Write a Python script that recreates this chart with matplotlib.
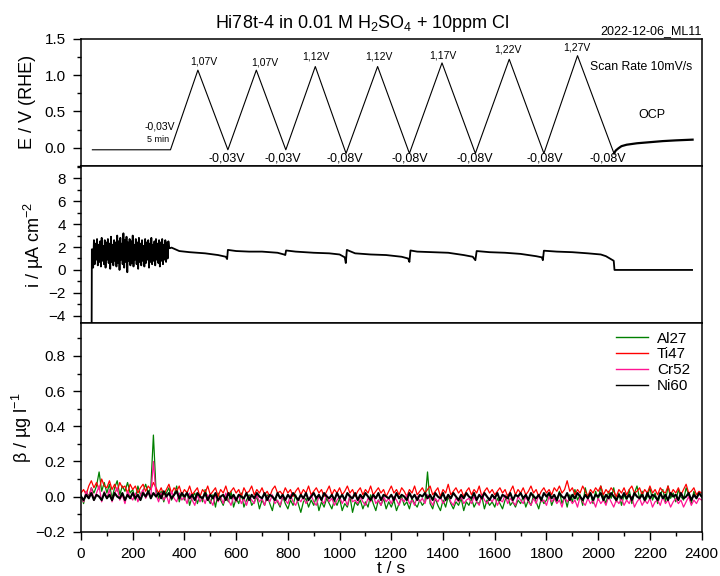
import numpy as np
import matplotlib.pyplot as plt
from matplotlib.ticker import MultipleLocator

plt.rcParams['font.family'] = ['Liberation Sans', 'DejaVu Sans']
plt.rcParams['mathtext.fontset'] = 'custom'
plt.rcParams['mathtext.rm'] = 'Liberation Sans'
plt.rcParams['mathtext.it'] = 'Liberation Sans:italic'
plt.rcParams['mathtext.default'] = 'regular'

# --- potential programme (E vs RHE) ---
t_pot = [44, 346, 452, 568, 678, 792, 906, 1025, 1147, 1270, 1396, 1525, 1656, 1790, 1920, 2061]
e_pot = [-0.03, -0.03, 1.07, -0.03, 1.07, -0.03, 1.12, -0.08, 1.12, -0.08, 1.17, -0.08, 1.22, -0.08, 1.27, -0.08]
t_ocp = [2061, 2068, 2078, 2090, 2110, 2150, 2200, 2250, 2300, 2365]
e_ocp = [-0.08, -0.04, -0.01, 0.02, 0.04, 0.06, 0.075, 0.09, 0.10, 0.11]

peak_labels = ['1,07V', '1,07V', '1,12V', '1,12V', '1,17V', '1,22V', '1,27V']
min_labels = ['-0,03V', '-0,03V', '-0,08V', '-0,08V', '-0,08V', '-0,08V', '-0,08V']

# --- current density ---
t_spike = [41, 42]
i_spike = [-6.0, 1.8]
t_noise = np.arange(44, 344, 3)
i_noise = [
    1.8, 0.2, 2.6, 0.5, 2.3, 0.9, 2.7, 0.4, 2.2, 0.7,
    2.5, 0.3, 2.8, 0.8, 2.1, 0.5, 2.6, 0.2, 2.4, 0.9,
    2.7, 0.6, 2.3, 0.1, 2.9, 0.7, 2.2, 0.4, 2.6, 0.8,
    2.4, 0.3, 3.0, 0.6, 2.5, 0.0, 2.8, 0.9, 2.3, 0.5,
    3.2, 0.2, 2.6, 0.7, 2.9, -0.2, 2.4, 0.8, 2.7, 0.4,
    2.5, 0.6, 3.0, 0.3, 2.2, 0.9, 2.7, 0.5, 2.4, 0.1,
    2.8, 0.7, 2.3, 0.4, 2.6, 0.8, 2.1, 0.3, 2.7, 0.6,
    2.4, 0.9, 2.6, 0.2, 2.3, 0.7, 2.8, 0.5, 2.2, 0.8,
    2.5, 0.4, 2.7, 0.9, 2.3, 0.6, 2.6, 0.3, 2.4, 0.8,
    2.7, 0.5, 2.2, 0.9, 2.6, 0.7, 2.4, 1.0, 2.5, 1.9]
t_cur = [344, 350, 380, 420, 480, 530, 560, 565, 568, 600, 650, 700, 760, 785, 790, 793,
         830, 900, 960, 1000, 1020, 1024, 1028, 1060, 1120, 1180, 1240, 1265, 1270, 1274,
         1300, 1360, 1420, 1480, 1515, 1525, 1530, 1580, 1640, 1700, 1760, 1782, 1786, 1790,
         1840, 1900, 1960, 2010, 2030, 2045, 2060, 2063, 2363]
i_cur = [1.9, 1.95, 1.65, 1.55, 1.45, 1.3, 1.15, 0.95, 1.75, 1.65, 1.6, 1.6, 1.5, 1.35, 1.3, 1.7,
         1.6, 1.5, 1.45, 1.35, 1.1, 0.6, 1.75, 1.45, 1.35, 1.3, 1.15, 1.0, 0.7, 1.7,
         1.6, 1.55, 1.5, 1.3, 1.15, 0.85, 1.65, 1.55, 1.5, 1.4, 1.2, 1.1, 0.85, 1.68,
         1.6, 1.55, 1.45, 1.35, 1.2, 1.0, 0.8, 0.0, 0.0]

# --- ICP-MS concentrations, one value every 10 s ---
t_icp = np.arange(0, 2401, 10)
al27 = [0.01, -0.04, 0.03, 0.00, 0.05, 0.02, 0.06, 0.14, 0.03, 0.08,
        0.02, 0.07, -0.01, 0.05, 0.09, 0.01, 0.06, 0.03, 0.08, 0.02,
        0.04, -0.02, 0.06, 0.01, 0.03, 0.07, 0.02, 0.05, 0.35, 0.04,
        -0.01, 0.03, -0.03, 0.02, 0.05, -0.02, 0.01, 0.06, -0.03, 0.02,
        -0.02, 0.03, -0.05, 0.00, 0.02, -0.04, 0.01, -0.03, 0.04, -0.01,
        -0.04, 0.01, -0.06, 0.02, -0.02, -0.05, 0.00, -0.03, 0.03, -0.06,
        -0.01, -0.04, 0.02, -0.06, -0.02, 0.01, -0.05, -0.03, 0.00, -0.07,
        -0.02, -0.05, 0.01, -0.04, -0.08, -0.01, -0.03, -0.06, 0.00, -0.04,
        -0.07, -0.02, -0.05, 0.01, -0.04, -0.09, -0.03, -0.01, -0.06, -0.02,
        -0.05, 0.00, -0.08, -0.03, -0.06, -0.01, -0.04, -0.07, -0.02, -0.05,
        -0.01, -0.08, -0.04, -0.06, 0.00, -0.09, -0.03, -0.05, -0.02, -0.07,
        -0.03, -0.06, 0.01, -0.04, -0.08, -0.02, -0.05, -0.01, -0.07, -0.03,
        -0.06, -0.02, -0.08, -0.04, 0.00, -0.05, -0.03, -0.07, -0.01, -0.04,
        -0.06, -0.02, -0.05, -0.03, 0.14, -0.04, -0.07, -0.01, -0.05, -0.08,
        -0.02, -0.06, 0.00, -0.04, -0.07, -0.03, -0.05, -0.01, -0.08, -0.03,
        -0.05, -0.01, -0.06, -0.03, -0.04, 0.00, -0.07, -0.02, -0.05, -0.03,
        -0.06, -0.01, -0.04, -0.07, -0.02, 0.01, -0.05, -0.03, -0.06, -0.02,
        -0.04, 0.00, -0.06, -0.02, -0.05, 0.01, -0.03, -0.07, -0.01, -0.04,
        -0.02, 0.02, -0.05, -0.01, -0.03, 0.03, -0.04, 0.00, -0.06, 0.01,
        -0.03, 0.04, -0.02, 0.01, -0.05, 0.05, -0.01, 0.02, -0.04, 0.03,
        -0.02, 0.06, 0.00, -0.04, 0.03, -0.01, 0.05, -0.03, 0.02, -0.05,
        0.01, -0.02, 0.04, -0.04, 0.02, 0.06, -0.01, 0.03, -0.03, 0.00,
        0.05, -0.02, 0.02, -0.04, 0.01, 0.04, -0.03, 0.06, -0.01, 0.02,
        -0.03, 0.04, 0.00, -0.02, 0.05, 0.01, -0.04, 0.03, -0.01, 0.02,
        0.00]
ti47 = [0.02, 0.04, 0.01, 0.06, 0.09, 0.05, 0.08, 0.04, 0.10, 0.06,
        0.05, 0.09, 0.04, 0.07, 0.03, 0.08, 0.05, 0.06, 0.02, 0.07,
        0.04, 0.06, 0.02, 0.05, 0.07, 0.03, 0.06, 0.04, 0.08, 0.05,
        0.02, 0.05, 0.01, 0.04, 0.07, 0.02, 0.05, 0.03, 0.06, 0.01,
        0.04, 0.02, 0.06, 0.01, 0.03, 0.05, 0.00, 0.04, 0.02, 0.06,
        0.01, 0.03, 0.05, 0.00, 0.04, 0.02, 0.06, 0.01, 0.03, 0.05,
        0.02, 0.04, 0.00, 0.05, 0.02, 0.03, 0.06, 0.01, 0.04, 0.02,
        0.05, 0.01, 0.03, 0.00, 0.04, 0.06, 0.02, 0.03, 0.01, 0.05,
        0.02, 0.04, 0.00, 0.03, 0.05, 0.01, 0.04, 0.02, 0.06, 0.01,
        0.03, 0.05, 0.02, 0.04, 0.00, 0.03, 0.06, 0.01, 0.04, 0.02,
        0.05, 0.01, 0.03, 0.06, 0.02, 0.04, 0.00, 0.03, 0.05, 0.01,
        0.04, 0.02, 0.06, 0.01, 0.03, 0.05, 0.02, 0.04, 0.00, 0.03,
        0.06, 0.02, 0.04, 0.01, 0.05, 0.03, 0.00, 0.04, 0.02, 0.06,
        0.01, 0.03, 0.05, 0.02, 0.04, 0.06, 0.01, 0.03, 0.05, 0.00,
        0.04, 0.02, 0.07, 0.01, 0.03, 0.05, 0.02, 0.04, 0.00, 0.03,
        0.05, 0.01, 0.04, 0.02, 0.06, 0.00, 0.03, 0.05, 0.02, 0.04,
        0.01, 0.03, 0.05, 0.02, 0.04, 0.00, 0.03, 0.06, 0.01, 0.04,
        0.02, 0.05, 0.01, 0.03, 0.06, 0.02, 0.04, 0.00, 0.03, 0.05,
        0.02, 0.04, 0.01, 0.05, 0.03, 0.06, 0.02, 0.04, 0.09, 0.03,
        0.05, 0.01, 0.04, 0.02, 0.06, 0.03, 0.00, 0.04, 0.02, 0.05,
        0.03, 0.06, 0.01, 0.04, 0.02, 0.05, 0.03, 0.00, 0.04, 0.02,
        0.05, 0.01, 0.04, 0.06, 0.02, 0.03, 0.05, 0.01, 0.04, 0.02,
        0.06, 0.02, 0.04, 0.01, 0.05, 0.03, 0.02, 0.06, 0.01, 0.04,
        0.02, 0.05, 0.01, 0.04, 0.07, 0.02, 0.03, 0.05, 0.01, 0.03,
        0.02]
cr52 = [0.00, -0.03, 0.03, -0.01, 0.05, -0.02, 0.02, 0.06, -0.03, 0.03,
        -0.01, 0.04, -0.03, 0.02, 0.05, -0.02, 0.01, -0.04, 0.03, 0.00,
        -0.02, 0.02, -0.03, 0.01, 0.04, -0.01, 0.02, 0.00, 0.20, 0.01,
        -0.03, 0.02, -0.02, 0.01, -0.04, 0.03, -0.01, -0.03, 0.02, -0.02,
        0.00, -0.04, 0.02, -0.02, -0.05, 0.01, -0.03, 0.00, -0.04, 0.01,
        -0.02, -0.05, 0.01, -0.03, 0.00, -0.04, 0.02, -0.02, -0.05, 0.00,
        -0.03, 0.01, -0.04, -0.01, -0.05, 0.00, -0.02, -0.04, 0.01, -0.03,
        -0.01, -0.05, 0.00, -0.03, 0.01, -0.04, -0.02, -0.05, 0.00, -0.02,
        -0.04, 0.01, -0.03, -0.05, -0.01, -0.03, 0.00, -0.04, -0.02, 0.01,
        -0.03, -0.05, 0.00, -0.02, -0.04, 0.01, -0.03, -0.01, -0.05, -0.02,
        0.00, -0.04, -0.01, -0.05, 0.01, -0.03, -0.02, -0.04, 0.00, -0.03,
        -0.05, -0.01, -0.03, 0.01, -0.04, -0.02, -0.05, 0.00, -0.03, -0.01,
        -0.04, 0.00, -0.02, -0.05, -0.01, -0.03, 0.01, -0.04, -0.02, -0.05,
        0.00, -0.03, -0.01, -0.04, 0.01, -0.02, -0.05, -0.01, -0.03, 0.00,
        -0.04, -0.02, 0.01, -0.03, -0.05, -0.01, -0.03, 0.00, -0.04, -0.02,
        -0.01, -0.04, 0.00, -0.03, -0.05, 0.01, -0.02, -0.04, -0.01, -0.03,
        0.00, -0.05, -0.02, -0.03, 0.01, -0.04, -0.01, -0.03, -0.05, 0.00,
        -0.02, -0.04, 0.00, -0.03, -0.05, -0.01, -0.04, 0.01, -0.03, -0.02,
        -0.05, 0.00, -0.03, -0.01, -0.04, -0.02, -0.06, 0.00, -0.03, -0.01,
        -0.04, -0.02, -0.06, 0.00, -0.03, -0.05, -0.01, -0.04, -0.02, -0.06,
        -0.01, -0.04, -0.02, -0.05, 0.00, -0.03, -0.06, -0.02, -0.04, -0.01,
        -0.05, -0.02, -0.04, 0.00, -0.06, -0.03, -0.01, -0.05, -0.02, -0.04,
        -0.01, -0.06, -0.03, -0.02, -0.05, 0.00, -0.04, -0.02, -0.06, -0.03,
        -0.01, -0.04, -0.02, -0.06, -0.03, 0.00, -0.05, -0.02, -0.04, -0.01,
        -0.02]
ni60 = [0.00, -0.02, 0.01, -0.01, 0.02, -0.02, 0.01, 0.00, -0.02, 0.02,
        -0.01, 0.01, -0.02, 0.02, 0.00, -0.01, 0.02, -0.02, 0.01, -0.01,
        0.02, -0.01, 0.01, -0.02, 0.02, 0.00, 0.03, -0.01, 0.02, 0.00,
        0.02, -0.01, 0.03, 0.00, 0.02, -0.01, 0.01, 0.03, -0.01, 0.02,
        0.00, 0.02, -0.01, 0.01, -0.02, 0.02, 0.00, -0.01, 0.02, -0.02,
        0.01, -0.01, 0.02, -0.02, 0.00, 0.01, -0.02, 0.02, -0.01, 0.01,
        -0.02, 0.01, 0.00, -0.01, 0.02, -0.02, 0.01, -0.01, 0.02, 0.00,
        -0.01, 0.02, -0.02, 0.01, 0.00, -0.02, 0.02, -0.01, 0.01, -0.02,
        0.01, -0.01, 0.02, 0.00, -0.02, 0.01, -0.01, 0.02, -0.02, 0.00,
        0.02, -0.01, 0.01, -0.02, 0.02, 0.00, -0.01, 0.01, -0.02, 0.02,
        -0.01, 0.01, -0.02, 0.02, 0.00, -0.01, 0.02, -0.02, 0.01, -0.01,
        0.02, 0.00, -0.02, 0.01, -0.01, 0.02, -0.02, 0.01, 0.00, -0.01,
        0.01, -0.02, 0.02, -0.01, 0.01, 0.00, -0.02, 0.02, -0.01, 0.01,
        -0.02, 0.01, 0.00, 0.02, -0.01, 0.01, -0.02, 0.02, 0.00, -0.01,
        0.02, -0.02, 0.01, -0.01, 0.02, 0.00, -0.02, 0.01, -0.01, 0.02,
        0.00, -0.01, 0.02, -0.02, 0.01, -0.01, 0.02, 0.00, -0.02, 0.01,
        -0.01, 0.02, -0.02, 0.01, 0.00, -0.01, 0.02, -0.02, 0.01, 0.00,
        0.02, -0.01, 0.01, -0.02, 0.02, 0.00, -0.01, 0.01, -0.02, 0.02,
        0.00, 0.02, -0.01, 0.01, -0.02, 0.02, 0.00, -0.01, 0.02, -0.02,
        0.01, -0.01, 0.02, 0.00, -0.02, 0.01, -0.01, 0.02, -0.02, 0.01,
        0.00, 0.02, -0.02, 0.01, -0.01, 0.02, 0.00, -0.02, 0.01, -0.01,
        0.02, -0.01, 0.01, -0.02, 0.02, 0.00, -0.01, 0.01, -0.02, 0.02,
        -0.01, 0.01, 0.00, -0.02, 0.02, -0.01, 0.01, -0.02, 0.02, 0.00,
        0.01, -0.02, 0.02, -0.01, 0.00, 0.02, -0.02, 0.01, -0.01, 0.02,
        0.00]
elements = ['Al27', 'Ti47', 'Cr52', 'Ni60']
colors = ['#008000', '#ff0000', '#ff1493', '#000000']

fig = plt.figure(figsize=(7.2, 5.76), dpi=100)
ax1 = fig.add_axes([0.1125, 0.7123, 0.862, 0.22])
ax2 = fig.add_axes([0.1125, 0.4387, 0.862, 0.2736], sharex=ax1)
ax3 = fig.add_axes([0.1125, 0.0769, 0.862, 0.3618], sharex=ax1)

for ax in (ax1, ax2, ax3):
    ax.tick_params(which='both', direction='out', top=False, right=False, labelsize=11, pad=5)
    ax.tick_params(which='major', length=6, width=1)
    ax.tick_params(which='minor', length=3, width=1)
    for s in ax.spines.values():
        s.set_linewidth(1.1)
for ax in (ax1, ax2):
    ax.tick_params(axis='x', which='both', bottom=False, labelbottom=False)

# top: potential
ax1.plot(t_pot, e_pot, color='k', lw=0.8)
ax1.plot(t_ocp, e_ocp, color='k', lw=1.6)
ax1.set_ylim(-0.25, 1.5)
ax1.yaxis.set_major_locator(MultipleLocator(0.5))
ax1.yaxis.set_minor_locator(MultipleLocator(0.25))
ax1.set_ylabel('E / V (RHE)', fontsize=13, va='center')
ax1.yaxis.set_label_coords(-0.087, 0.5)

peak_pos = [(475, 1.19), (710, 1.17), (910, 1.255), (1153, 1.255), (1398, 1.27), (1652, 1.357), (1917, 1.38)]
for lbl, (x, y) in zip(peak_labels, peak_pos):
    ax1.text(x, y, lbl, fontsize=7.5, ha='center', va='center')
min_pos = [563, 779, 1021, 1272, 1522, 1793, 2038]
for lbl, x in zip(min_labels, min_pos):
    ax1.text(x, -0.145, lbl, fontsize=9, ha='center', va='center')
ax1.text(364, 0.29, '-0,03V', fontsize=7.5, ha='right', va='center')
ax1.text(342, 0.115, '5 min', fontsize=6.5, ha='right', va='center')
ax1.text(1969, 1.117, 'Scan Rate 10mV/s', fontsize=8.8, ha='left', va='center')
ax1.text(2206, 0.45, 'OCP', fontsize=9, ha='center', va='center')

# middle: current density
ax2.plot(t_spike + list(t_noise) + t_cur, i_spike + i_noise + i_cur, color='k', lw=1.3)
ax2.set_ylim(-4.66, 9.1)
ax2.yaxis.set_major_locator(MultipleLocator(2))
ax2.yaxis.set_minor_locator(MultipleLocator(1))
ax2.set_ylabel('i / µA cm$^{-2}$', fontsize=13, va='center')
ax2.yaxis.set_label_coords(-0.076, 0.5)

# bottom: ICP-MS
for name, vals, c in zip(elements, [al27, ti47, cr52, ni60], colors):
    ax3.plot(t_icp, vals, color=c, lw=1.5 if name == 'Ni60' else 0.9, label=name)
ax3.set_ylim(-0.2, 0.986)
ax3.yaxis.set_major_locator(MultipleLocator(0.2))
ax3.yaxis.set_minor_locator(MultipleLocator(0.1))
ax3.set_ylabel('β / µg l$^{-1}$', fontsize=13, va='center')
ax3.yaxis.set_label_coords(-0.095, 0.5)
leg = ax3.legend(loc='upper right', bbox_to_anchor=(0.986, 0.975), frameon=False, fontsize=11,
                 handlelength=2.1, handletextpad=0.6, labelspacing=0.12, borderpad=0.2, borderaxespad=0)
for h in leg.get_lines():
    h.set_linewidth(1.0)

ax3.set_xlim(0, 2400)
ax3.xaxis.set_major_locator(MultipleLocator(200))
ax3.xaxis.set_minor_locator(MultipleLocator(100))
ax3.set_xlabel('t / s', fontsize=12.5, labelpad=0)

fig.text(362 / 720, 1 - 24 / 576, 'Hi78t-4 in 0.01 M H$_2$SO$_4$ + 10ppm Cl', fontsize=13, ha='center', va='center')
fig.text(702 / 720, 1 - 31 / 576, '2022-12-06_ML11', fontsize=9, ha='right', va='center')

plt.savefig('out.png', dpi=100)
